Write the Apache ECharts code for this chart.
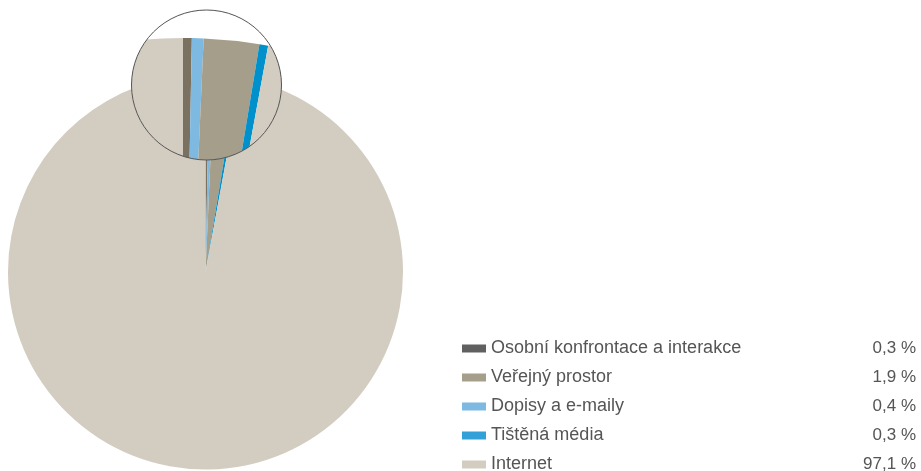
<!DOCTYPE html>
<html>
<head>
<meta charset="utf-8">
<script src="https://cdn.jsdelivr.net/npm/echarts@6/dist/echarts.min.js"></script>
<style>
html,body{margin:0;padding:0;background:#fff;}
#chart{width:921px;height:471px;}
</style>
</head>
<body>
<div id="chart"></div>
<script>
// Categories in pie (clockwise from 12 o'clock) order
const categories = ['Osobní konfrontace a interakce', 'Dopisy a e-maily', 'Veřejný prostor', 'Tištěná média', 'Internet'];
const shares = [0.3, 0.4, 1.9, 0.3, 97.1];
const sliceColors = ['#7a7160', '#7db9e1', '#a59e8b', '#0090cb', '#d3ccc0'];
// Legend order and legend swatch colours
const legendOrder = ['Osobní konfrontace a interakce', 'Veřejný prostor', 'Dopisy a e-maily', 'Tištěná média', 'Internet'];
const legendColors = ['#606060', '#a59e8b', '#7db9e1', '#33a1d7', '#d3ccc0'];

const chart = echarts.init(document.getElementById('chart'), null, {renderer: 'canvas'});

const pieData = categories.map((c, i) => ({name: c, value: shares[i], itemStyle: {color: sliceColors[i]}}));
const total = shares.reduce((a, b) => a + b, 0);

// magnifier geometry
const lens = {cx: 206.5, cy: 85, r: 75};
const zoomPie = {cx: 183, cy: 508, r: 470};

function fmt(v) { return v.toFixed(1).replace('.', ',') + ' %'; }

const option = {
  animation: false,
  backgroundColor: '#ffffff',
  legend: {
    orient: 'vertical',
    left: 462,
    top: 338.5,
    height: 200,
    padding: 0,
    itemWidth: 24,
    itemHeight: 8,
    itemGap: 9,
    icon: 'rect',
    selectedMode: false,
    data: legendOrder.map((n, i) => ({name: n, itemStyle: {color: legendColors[i]}})),
    formatter: function (name) {
      const idx = categories.indexOf(name);
      return '{n|' + name + '}{v|' + fmt(shares[idx]) + '}';
    },
    textStyle: {
      fontFamily: 'Liberation Sans',
      fontSize: 17,
      color: '#555',
      lineHeight: 20,
      rich: {
        n: {width: 345, fontSize: 18, color: '#555', fontFamily: 'Liberation Sans', lineHeight: 20},
        v: {width: 80, align: 'right', fontSize: 17, color: '#555', fontFamily: 'Liberation Sans', lineHeight: 20}
      }
    }
  },
  series: [
    {
      type: 'pie',
      center: [205.5, 272],
      radius: 197.5,
      startAngle: 90,
      clockwise: true,
      silent: true,
      label: {show: false},
      labelLine: {show: false},
      itemStyle: {borderWidth: 0},
      data: pieData,
      z: 2
    },
    {
      type: 'custom',
      coordinateSystem: 'none',
      silent: true,
      z: 5,
      data: shares.map((v, i) => [i, v]),
      renderItem: function (params, api) {
        const i = params.dataIndex;
        let cum = 0;
        for (let k = 0; k < i; k++) cum += shares[k];
        const a0 = -Math.PI / 2 + cum / total * Math.PI * 2;
        const a1 = -Math.PI / 2 + (cum + shares[i]) / total * Math.PI * 2;
        const children = [];
        if (i === 0) {
          children.push({
            type: 'circle',
            shape: {cx: lens.cx, cy: lens.cy, r: lens.r},
            style: {fill: '#ffffff'},
            z2: -1
          });
          children.push({
            type: 'circle',
            shape: {cx: lens.cx, cy: lens.cy, r: lens.r},
            style: {fill: 'none', stroke: '#555555', lineWidth: 1},
            z2: 10
          });
        }
        children.push({
          type: 'sector',
          shape: {cx: zoomPie.cx, cy: zoomPie.cy, r0: 0, r: zoomPie.r, startAngle: a0, endAngle: a1, clockwise: true},
          style: {fill: sliceColors[i]},
          z2: 1,
          clipPath: {type: 'circle', shape: {cx: lens.cx, cy: lens.cy, r: lens.r}}
        });
        return {type: 'group', children: children};
      }
    }
  ]
};
chart.setOption(option);
</script>
</body>
</html>
